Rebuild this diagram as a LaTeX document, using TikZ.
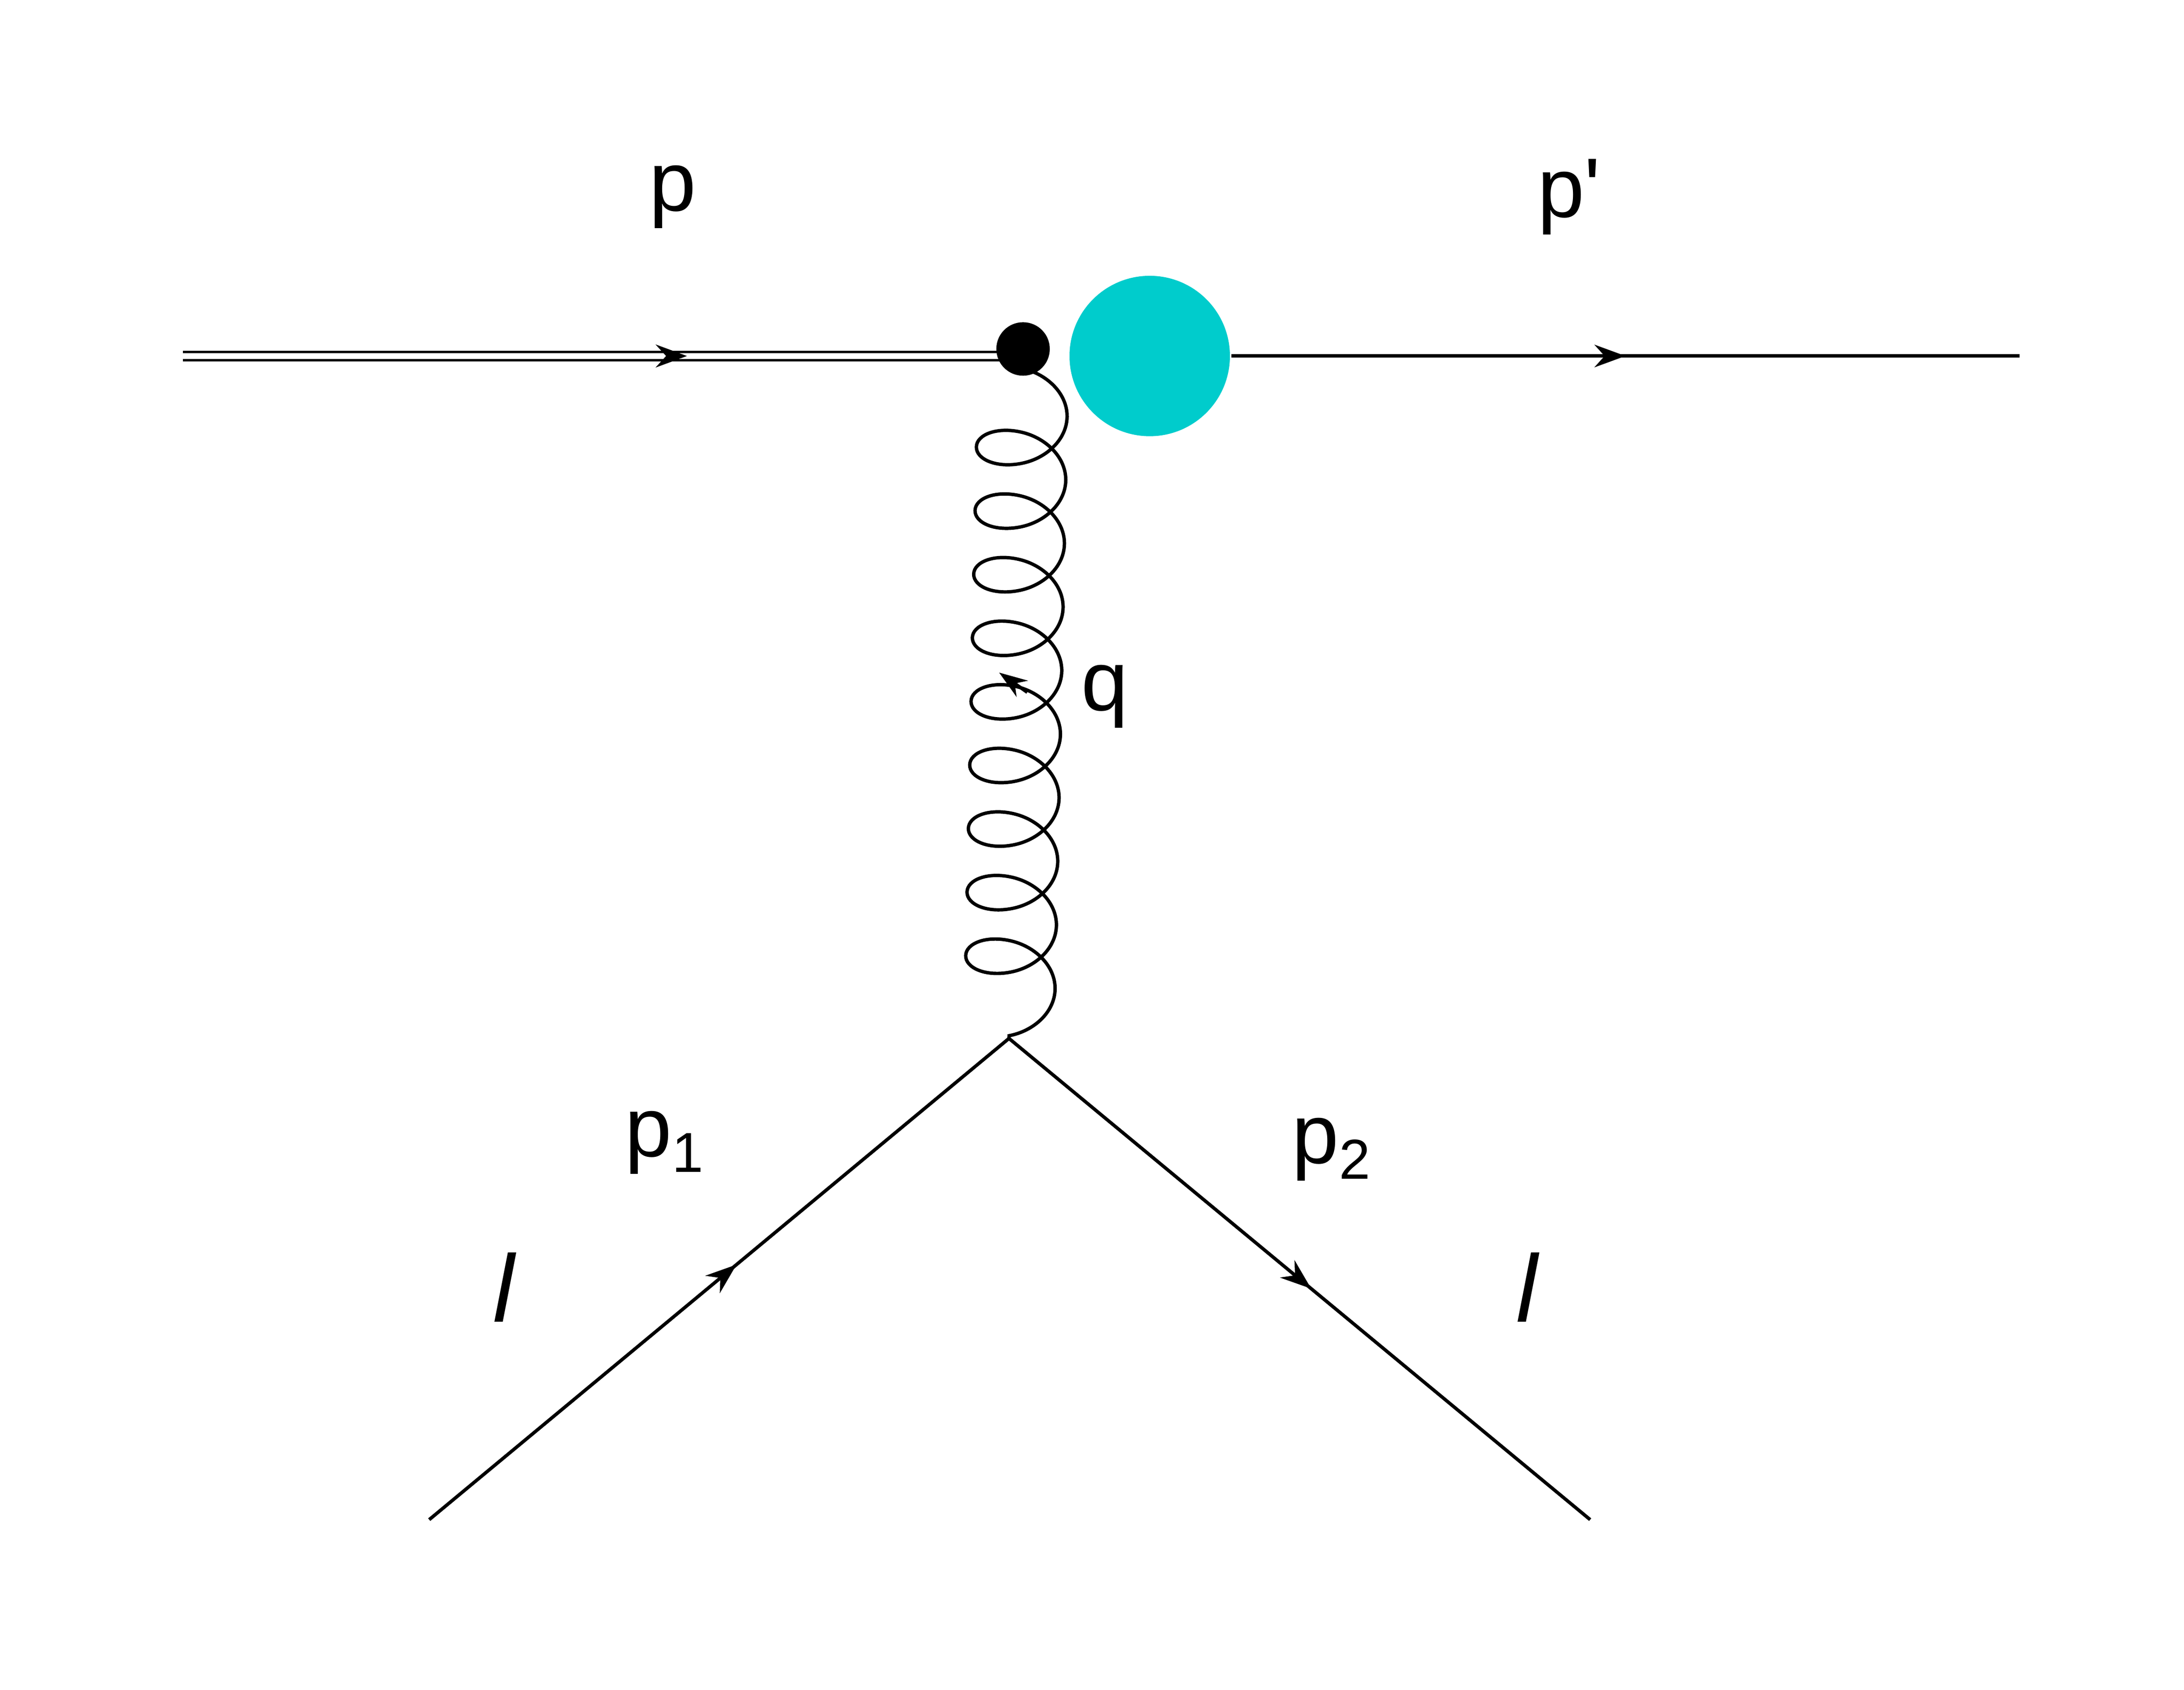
\documentclass[tikz,border=0pt]{standalone}
\usepackage{fontspec}
\setmainfont{Liberation Sans}
\usetikzlibrary{decorations.pathmorphing,decorations.markings,arrows.meta}
\definecolor{blob}{RGB}{0,204,204}
\begin{document}
\begin{tikzpicture}[x=0.5pt,y=-0.5pt,
  line width=1.2pt,
  lbl/.style={font=\fontsize{30}{36}\selectfont},
  arr/.style={postaction={decorate},decoration={markings,mark=at position #1 with {\arrow{Stealth[length=11pt,width=8pt]}}}}]
\useasboundingbox (0,0) rectangle (1552,1200.8);
\coordinate (a) at (130,253);
\coordinate (v1) at (727,253);
\coordinate (b) at (1435,253);
\coordinate (v2) at (717,738);
\coordinate (l1) at (305,1080);
\coordinate (l2) at (1130,1080);
\draw[double,double distance=2pt,line width=0.9pt,arr=0.6] (a) -- (v1);
\node[circle,fill=blob,minimum size=57pt,inner sep=0] (blob) at (817,253) {};
\draw[arr=0.5] (blob.east) -- (b);
\draw[decorate,decoration={coil,aspect=0.7,amplitude=16pt,segment length=22.6pt,pre length=0pt,post length=0pt}] (727,262) -- (v2);
\node[circle,fill=black,minimum size=19pt,inner sep=0] (dot) at (727,248) {};
\draw[arr=0.53] (l1) -- (v2);
\draw[arr=0.52] (v2) -- (l2);
\draw[-{Stealth[length=10pt,width=7pt]}] (730,492) -- (710,478);
\node[lbl] (p) at (478,140) {p};
\node[lbl] (pp) at (1115,140) {p\textquotesingle};
\node[lbl] (q) at (785,495) {q};
\node[lbl] (p1) at (472,812) {p\raisebox{-0.35ex}{\fontsize{20}{24}\selectfont 1}};
\node[lbl] (p2) at (946,817) {p\raisebox{-0.35ex}{\fontsize{20}{24}\selectfont 2}};
\node[lbl,font=\fontsize{34}{40}\selectfont\itshape] (la) at (358,915) {l};
\node[lbl,font=\fontsize{34}{40}\selectfont\itshape] (lb) at (1085,915) {l};
\end{tikzpicture}
\end{document}
